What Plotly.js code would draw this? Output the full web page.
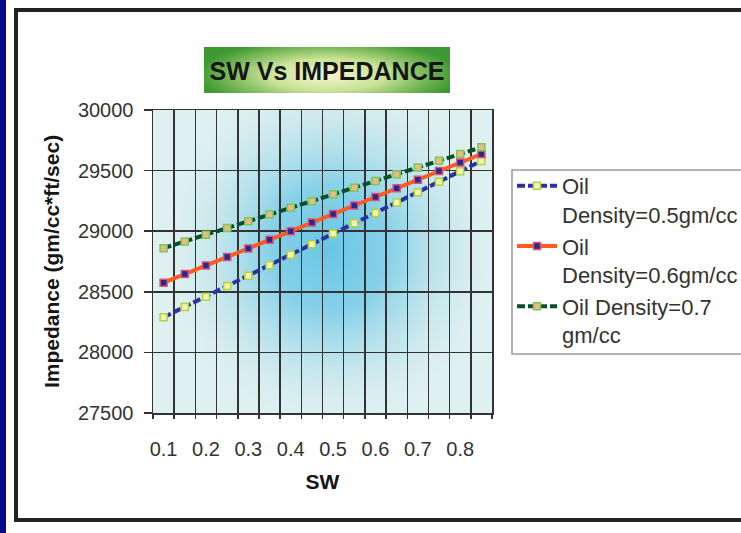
<!DOCTYPE html>
<html>
<head>
<meta charset="utf-8">
<script src="https://cdn.plot.ly/plotly-3.0.1.min.js"></script>
<style>
html,body{margin:0;padding:0;background:#fff;}
#chart{width:741px;height:533px;}
</style>
</head>
<body>
<div id="chart"></div>
<script>
// ---- data ----
const sw = [0.1, 0.15, 0.2, 0.25, 0.3, 0.35, 0.4, 0.45, 0.5, 0.55, 0.6, 0.65, 0.7, 0.75, 0.8, 0.85];
const density05 = [28290, 28375, 28460, 28548, 28633, 28720, 28806, 28893, 28980, 29065, 29150, 29237, 29322, 29408, 29494, 29580];
const density06 = [28575, 28646, 28717, 28787, 28858, 28929, 29000, 29071, 29142, 29212, 29283, 29354, 29425, 29496, 29566, 29637];
const density07 = [28860, 28915, 28971, 29026, 29082, 29137, 29193, 29248, 29304, 29359, 29415, 29470, 29526, 29581, 29637, 29692];
const seriesNames = ['Oil<br>Density=0.5gm/cc', 'Oil<br>Density=0.6gm/cc', 'Oil Density=0.7<br>gm/cc'];
const xTickVals = [0.1, 0.2, 0.3, 0.4, 0.5, 0.6, 0.7, 0.8];
const xTickText = ['0.1', '0.2', '0.3', '0.4', '0.5', '0.6', '0.7', '0.8'];
const yTickVals = [27500, 28000, 28500, 29000, 29500, 30000];
const yTickText = ['27500', '28000', '28500', '29000', '29500', '30000'];
const chartTitle = 'SW Vs IMPEDANCE';
const xTitle = 'SW';
const yTitle = 'Impedance (gm/cc*ft/sec)';

// ---- geometry helpers (pixel -> paper) ----
const W = 741, H = 533;
const L = 153, R = 492, T = 110, B = 413;
const px = x => (x - L) / (R - L);
const py = y => (B - y) / (B - T);

// ---- background images made on canvas ----
function plotBg() {
  const w = 340, h = 303;
  const c = document.createElement('canvas'); c.width = w; c.height = h;
  const g = c.getContext('2d');
  g.fillStyle = 'rgb(222,240,240)'; g.fillRect(0, 0, w, h);
  g.save();
  g.translate(w * 0.52, h * 0.46);
  g.scale(1, 1.05);
  const gr = g.createRadialGradient(0, 0, 0, 0, 0, 170);
  gr.addColorStop(0, 'rgba(105,198,230,1)');
  gr.addColorStop(0.35, 'rgba(128,206,232,0.92)');
  gr.addColorStop(0.75, 'rgba(192,229,236,0.55)');
  gr.addColorStop(1, 'rgba(222,240,240,0)');
  g.fillStyle = gr; g.fillRect(-w, -h, 2 * w, 2 * h);
  g.restore();
  return c.toDataURL('image/png');
}
function titleBg() {
  const w = 246, h = 46;
  const c = document.createElement('canvas'); c.width = w; c.height = h;
  const g = c.getContext('2d');
  g.fillStyle = 'rgb(62,152,52)'; g.fillRect(0, 0, w, h);
  g.save();
  g.translate(w / 2, h / 2 + 5);
  g.scale(1, 0.28);
  const gr = g.createRadialGradient(0, 0, 0, 0, 0, 130);
  gr.addColorStop(0, 'rgba(248,246,208,1)');
  gr.addColorStop(0.45, 'rgba(200,226,148,1)');
  gr.addColorStop(0.85, 'rgba(98,172,72,1)');
  gr.addColorStop(1, 'rgba(62,152,52,1)');
  g.fillStyle = gr; g.fillRect(-w, -h * 4, 2 * w, h * 8);
  g.restore();
  return c.toDataURL('image/png');
}

const traces = [
  {
    x: sw, y: density05, name: seriesNames[0], type: 'scatter', mode: 'lines+markers',
    line: {color: '#2b32a6', width: 4, dash: '8px,3px'},
    marker: {symbol: 'square', size: 7, color: '#f1f5b0', line: {color: '#b4d23a', width: 1.5}}
  },
  {
    x: sw, y: density06, name: seriesNames[1], type: 'scatter', mode: 'lines+markers',
    line: {color: '#ff5a1f', width: 4},
    marker: {symbol: 'square', size: 7, color: '#2a2a8c', line: {color: '#e0507a', width: 1.5}}
  },
  {
    x: sw, y: density07, name: seriesNames[2], type: 'scatter', mode: 'lines+markers',
    line: {color: '#0b4f2a', width: 4, dash: '8px,3px'},
    marker: {symbol: 'square', size: 7, color: '#e9b98c', line: {color: '#7cc850', width: 1.5}}
  }
];

const fontFam = '"Liberation Sans", Arial, sans-serif';
const layout = {
  width: W, height: H,
  margin: {l: L, r: W - R, t: T, b: H - B, pad: 0, autoexpand: false},
  paper_bgcolor: '#ffffff',
  plot_bgcolor: 'rgb(222,240,240)',
  font: {family: fontFam, color: '#333'},
  showlegend: true,
  title: {
    text: '<b>' + chartTitle + '</b>',
    font: {family: fontFam, size: 25, color: '#151515'},
    x: 327 / W, xref: 'container', xanchor: 'center',
    y: 1 - 71 / H, yref: 'container', yanchor: 'middle'
  },
  xaxis: {
    range: [0.075, 0.875],
    tickmode: 'array', tickvals: xTickVals, ticktext: xTickText,
    ticks: '', showgrid: false, zeroline: false,
    ticklabelstandoff: 17,
    tickfont: {family: fontFam, size: 20, color: '#333'},
    showline: true, mirror: true, linecolor: '#333', linewidth: 1.5,
    minor: {tick0: 0.075, dtick: 0.05, showgrid: true, gridcolor: '#333', gridwidth: 1.5,
            ticks: 'outside', ticklen: 4, tickcolor: '#333', tickwidth: 1.5},
    title: {text: '<b>' + xTitle + '</b>', font: {family: fontFam, size: 21, color: '#151515'}, standoff: 16}
  },
  yaxis: {
    range: [27500, 30000],
    tickmode: 'array', tickvals: yTickVals, ticktext: yTickText,
    ticks: 'outside', ticklen: 8, tickcolor: '#333', tickwidth: 1.5,
    ticklabelstandoff: 6,
    showgrid: true, gridcolor: '#333', gridwidth: 1.5, zeroline: false,
    tickfont: {family: fontFam, size: 20, color: '#333'},
    showline: true, mirror: true, linecolor: '#333', linewidth: 1.5,
    title: {text: '<b>' + yTitle + '</b>', font: {family: fontFam, size: 21, color: '#151515'}, standoff: 12}
  },
  legend: {
    x: px(512), y: py(165), xanchor: 'left', yanchor: 'top',
    bgcolor: 'rgba(0,0,0,0)', borderwidth: 0,
    font: {family: fontFam, size: 22, color: '#333'},
    valign: 'top', itemwidth: 40, tracegroupgap: 9
  },
  images: [
    {source: plotBg(), xref: 'x domain', yref: 'y domain', x: 0, y: 1, sizex: 1, sizey: 1,
     xanchor: 'left', yanchor: 'top', sizing: 'stretch', layer: 'below'},
    {source: titleBg(), xref: 'paper', yref: 'paper', x: px(204), y: py(47),
     sizex: px(450) - px(204), sizey: py(47) - py(93),
     xanchor: 'left', yanchor: 'top', sizing: 'stretch', layer: 'above'}
  ],
  shapes: [
    {type: 'rect', xref: 'paper', yref: 'paper', x0: px(0), x1: px(6), y0: py(0), y1: py(H),
     fillcolor: '#0a0a8c', line: {width: 0}, layer: 'below'},
    {type: 'rect', xref: 'paper', yref: 'paper', x0: px(16), x1: px(780), y0: py(10), y1: py(520),
     fillcolor: 'rgba(0,0,0,0)', line: {color: '#222', width: 4}, layer: 'below'},
    {type: 'rect', xref: 'paper', yref: 'paper', x0: px(512), x1: px(760), y0: py(170), y1: py(354),
     fillcolor: 'rgba(0,0,0,0)', line: {color: '#9a9a9a', width: 1.5}, layer: 'below'}
  ]
};

Plotly.newPlot('chart', traces, layout, {displayModeBar: false, staticPlot: true});
</script>
</body>
</html>
